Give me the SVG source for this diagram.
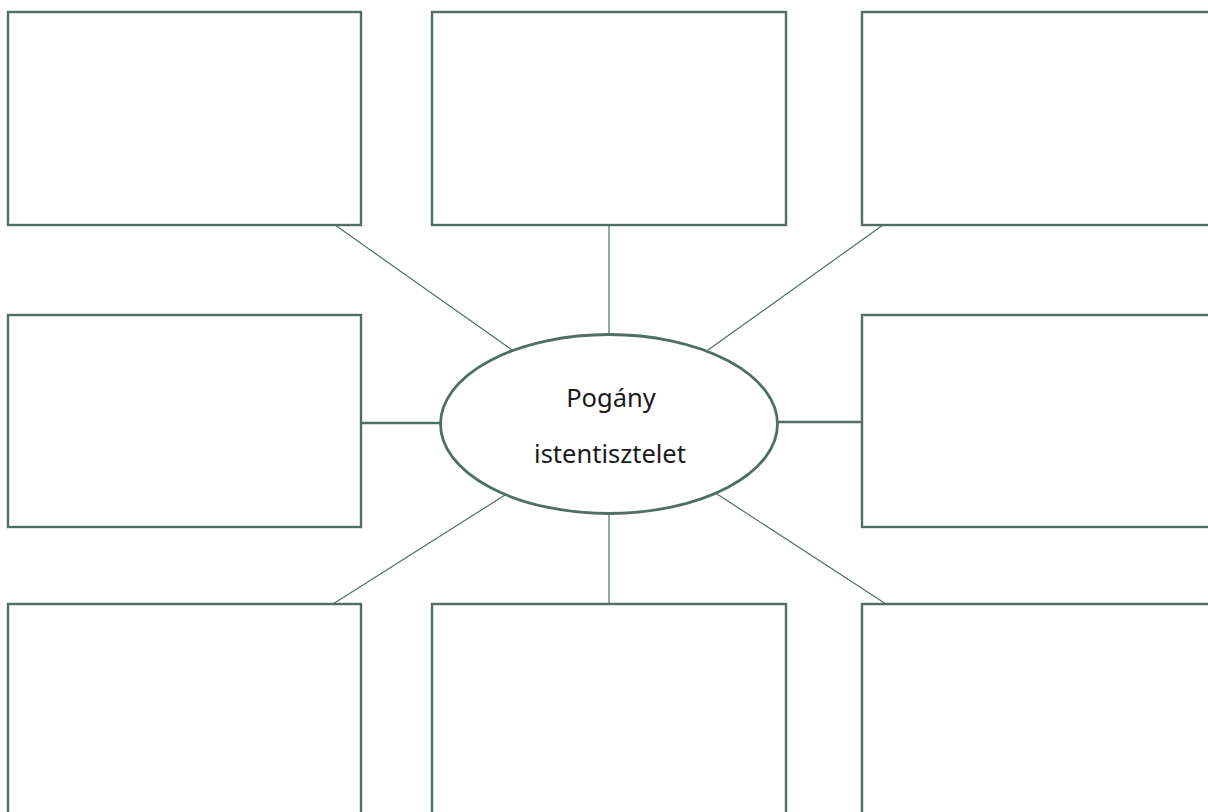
<svg xmlns="http://www.w3.org/2000/svg" width="1208" height="812" viewBox="0 0 1208 812">
<style>
.box{fill:#fff;stroke:#4f6f63;stroke-width:2.4}
.oval{fill:#fff;stroke:#4f6f63;stroke-width:2.8}
.thin{stroke:#4f6f63;stroke-width:1.2;fill:none}
.thick{stroke:#4f6f63;stroke-width:2.4;fill:none}
.lbl{font-family:"Noto Sans",sans-serif;font-size:25.5px;fill:#1a1a1a;text-anchor:middle}
</style>
<rect width="1208" height="812" fill="#fff"/>
<g id="connectors">
<line class="thin" x1="335" y1="225" x2="512" y2="350"/>
<line class="thin" x1="609" y1="225" x2="609" y2="335"/>
<line class="thin" x1="883" y1="225" x2="708" y2="350"/>
<line class="thick" x1="361" y1="423" x2="441" y2="423"/>
<line class="thick" x1="777" y1="422" x2="862" y2="422"/>
<line class="thin" x1="333" y1="604" x2="505" y2="495"/>
<line class="thin" x1="609" y1="513" x2="609" y2="604"/>
<line class="thin" x1="886" y1="604" x2="717" y2="494"/>
</g>
<g id="box-top-left"><rect class="box" x="8" y="12" width="353" height="213"/></g>
<g id="box-top-center"><rect class="box" x="432" y="12" width="354" height="213"/></g>
<g id="box-top-right"><rect class="box" x="862" y="12" width="360" height="213"/></g>
<g id="box-mid-left"><rect class="box" x="8" y="315" width="353" height="212"/></g>
<g id="box-mid-right"><rect class="box" x="862" y="315" width="360" height="212"/></g>
<g id="box-bot-left"><rect class="box" x="8" y="604" width="353" height="230"/></g>
<g id="box-bot-center"><rect class="box" x="432" y="604" width="354" height="230"/></g>
<g id="box-bot-right"><rect class="box" x="862" y="604" width="360" height="230"/></g>
<g id="center">
<ellipse class="oval" cx="609" cy="424" rx="168.5" ry="89.5"/>
<text class="lbl" x="611" y="407">Pogány</text>
<text class="lbl" x="610" y="463">istentisztelet</text>
</g>
</svg>
